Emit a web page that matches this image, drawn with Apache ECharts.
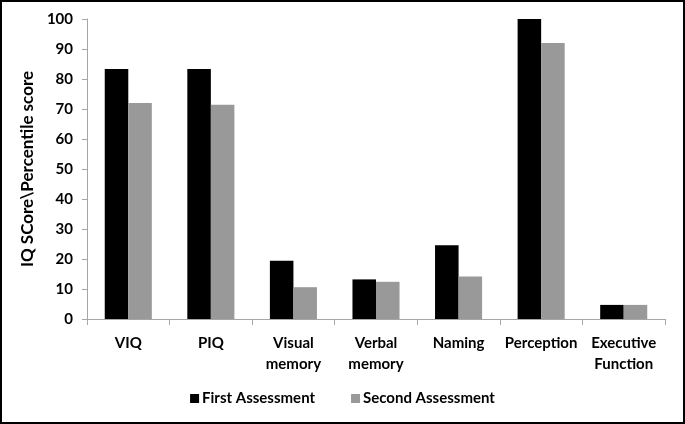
<!DOCTYPE html>
<html><head><meta charset="utf-8">
<script src="https://cdn.jsdelivr.net/npm/echarts@6/dist/echarts.min.js"></script>
<style>html,body{margin:0;padding:0;background:#fff}#c{width:685px;height:424px;box-sizing:border-box;border:2px solid #000}</style>
</head><body><div id="c"></div>
<script>
const categories = ["VIQ", "PIQ", "Visual\nmemory", "Verbal\nmemory", "Naming", "Perception", "Executive\nFunction"];
const firstAssessment = [83.3, 83.3, 19.4, 13.2, 24.6, 100, 4.7];
const secondAssessment = [72, 71.4, 10.6, 12.4, 14.2, 92, 4.7];
const yTicks = [0, 10, 20, 30, 40, 50, 60, 70, 80, 90, 100];
const FONT = 'Lato';
const chart = echarts.init(document.getElementById('c'), null, {renderer: 'canvas'});
chart.setOption({
  animation: false,
  textStyle: {fontFamily: FONT},
  grid: {left: 85, right: 18, top: 17, bottom: 103},
  legend: {
    data: ['First Assessment', 'Second Assessment'],
    bottom: 11, left: 'center',
    itemWidth: 9, itemHeight: 9, itemGap: 36,
    icon: 'rect',
    textStyle: {fontFamily: FONT, fontWeight: 'bold', fontSize: 15, color: '#000', padding: [0, 0, 0, -2]}
  },
  xAxis: {
    type: 'category', data: categories,
    axisLine: {lineStyle: {color: '#a6a6a6', width: 1}},
    axisTick: {show: true, length: 6, lineStyle: {color: '#a6a6a6'}},
    axisLabel: {interval: 0, margin: 14, fontFamily: FONT, fontWeight: 'bold', fontSize: 15, color: '#000', lineHeight: 21}
  },
  yAxis: {
    type: 'value', min: yTicks[0], max: yTicks[yTicks.length - 1], interval: 10,
    name: 'IQ SCore\\Percentile score', nameLocation: 'middle', nameGap: 47,
    nameTextStyle: {fontFamily: FONT, fontWeight: 'bold', fontSize: 17, color: '#000'},
    axisLine: {show: true, lineStyle: {color: '#a6a6a6', width: 1}},
    axisTick: {show: true, length: 5, lineStyle: {color: '#a6a6a6'}},
    splitLine: {show: false},
    axisLabel: {margin: 14, fontFamily: FONT, fontWeight: 'bold', fontSize: 15, color: '#000'}
  },
  series: [
    {name: 'First Assessment', type: 'bar', data: firstAssessment, barWidth: '28.5%', barGap: '0%', itemStyle: {color: '#000000'}},
    {name: 'Second Assessment', type: 'bar', data: secondAssessment, barWidth: '28.5%', barGap: '0%', itemStyle: {color: '#999999'}}
  ]
});
</script></body></html>
